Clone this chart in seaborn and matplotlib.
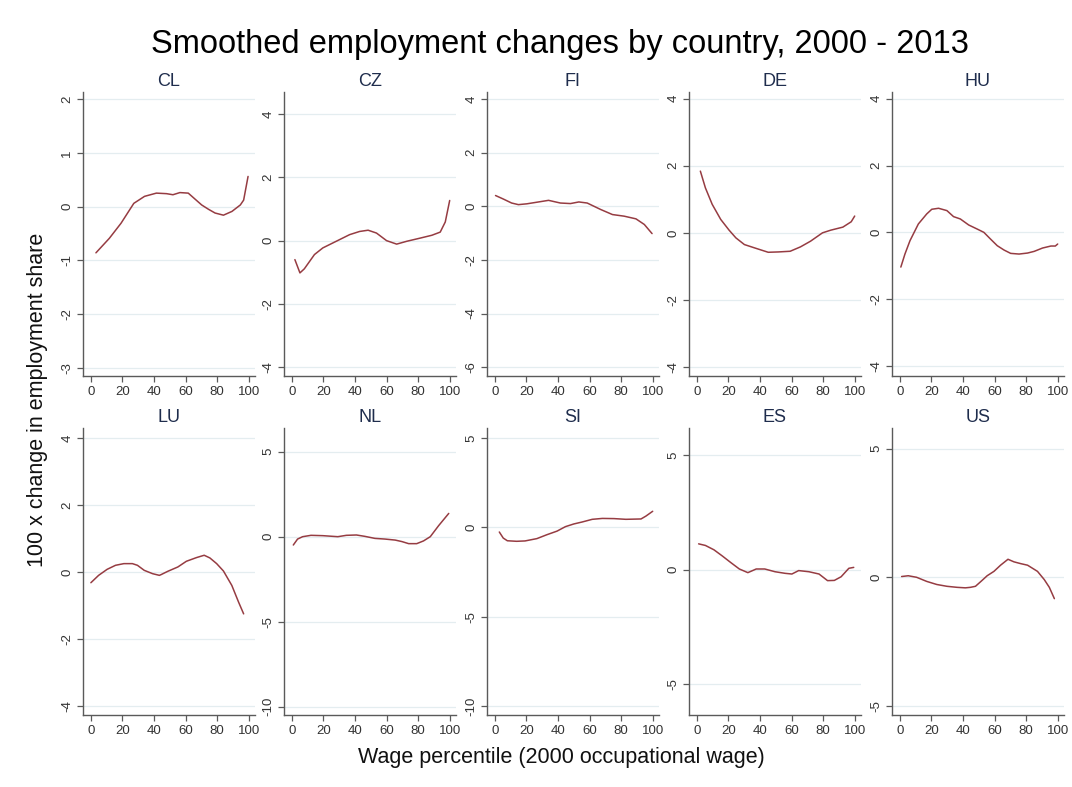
import numpy as np
import pandas as pd
import matplotlib
matplotlib.use("Agg")
import matplotlib.pyplot as plt
import seaborn as sns

# Smoothed employment-share changes by wage percentile, one panel per country
countries = ["CL", "CZ", "FI", "DE", "HU", "LU", "NL", "SI", "ES", "US"]

cl_x = [3.2, 11.7, 19.1, 27.2, 34, 41.5, 47.9, 52, 56.4, 61.7, 70.2, 74.5, 78.7, 84, 89.4, 94.7, 96.8, 99.6]
cl_y = [-0.86, -0.59, -0.31, 0.06, 0.19, 0.25, 0.24, 0.22, 0.26, 0.25, 0.03, -0.05, -0.12, -0.16, -0.09, 0.03, 0.12, 0.56]

cz_x = [1.9, 5.1, 7.9, 14.3, 19.6, 28.1, 36.6, 42.9, 48.3, 53.6, 60, 66.4, 72.8, 81.3, 88.7, 94, 97.2, 100]
cz_y = [-0.6, -1.02, -0.89, -0.44, -0.23, -0.02, 0.19, 0.29, 0.33, 0.24, 0.0, -0.11, -0.02, 0.08, 0.17, 0.27, 0.59, 1.27]

fi_x = [0.4, 5.3, 10.6, 14.9, 20.2, 26.6, 34, 41.5, 47.9, 53.2, 58.5, 67, 74.5, 81.9, 89.4, 94.7, 99.6]
fi_y = [0.40, 0.27, 0.12, 0.06, 0.09, 0.15, 0.22, 0.12, 0.10, 0.16, 0.12, -0.12, -0.31, -0.37, -0.47, -0.68, -1.02]

de_x = [2.2, 5.4, 9.7, 15.1, 20.4, 24.7, 30.1, 36.6, 45.2, 51.6, 59.1, 65.6, 72, 79.6, 84.9, 92.5, 97.8, 100]
de_y = [1.84, 1.34, 0.85, 0.40, 0.08, -0.15, -0.35, -0.45, -0.58, -0.57, -0.55, -0.42, -0.25, 0.0, 0.08, 0.17, 0.33, 0.50]

hu_x = [0.6, 3.2, 6.4, 11.7, 17, 20.2, 24.5, 29.8, 34, 38.3, 43.6, 48.9, 53.2, 57.4, 61.7, 66, 70.2, 75.5, 80.9, 85.1, 90.4, 95.7, 98.5, 100]
hu_y = [-1.04, -0.65, -0.25, 0.25, 0.55, 0.69, 0.72, 0.65, 0.47, 0.40, 0.22, 0.10, 0.0, -0.20, -0.40, -0.53, -0.63, -0.65, -0.62, -0.57, -0.47, -0.41, -0.41, -0.35]

lu_x = [0, 4.9, 10.3, 15.6, 20.9, 26.3, 29.5, 33.8, 39.1, 43.4, 44.4, 48.7, 55.1, 60.5, 66.9, 71.8, 75.4, 79.7, 84, 89.3, 93.6, 96.8]
lu_y = [-0.32, -0.10, 0.08, 0.20, 0.25, 0.25, 0.20, 0.05, -0.05, -0.10, -0.08, 0.02, 0.15, 0.32, 0.43, 0.50, 0.42, 0.25, 0.03, -0.40, -0.90, -1.25]

nl_x = [0.9, 3.6, 6.8, 12.1, 19.6, 29.1, 34.5, 40.9, 46.2, 52.6, 59, 65.5, 69.8, 74, 79.1, 83.4, 87.7, 93, 99.4]
nl_y = [-0.49, -0.14, 0.0, 0.08, 0.06, 0.0, 0.08, 0.10, 0.02, -0.10, -0.14, -0.20, -0.29, -0.41, -0.41, -0.25, 0.0, 0.65, 1.37]

si_x = [2.8, 5.3, 7.9, 13.8, 19.1, 26.6, 33, 39.4, 44.7, 50, 55.3, 61.7, 68.1, 75.5, 83, 92.6, 95.7, 100]
si_y = [-0.26, -0.60, -0.75, -0.78, -0.76, -0.63, -0.41, -0.21, 0.04, 0.19, 0.30, 0.45, 0.50, 0.49, 0.45, 0.47, 0.63, 0.90]

es_x = [1.1, 5.4, 10.8, 16.1, 21.5, 26.9, 32.3, 37.6, 43, 49.5, 55.9, 60.2, 64.5, 71, 77.4, 82.8, 87.1, 91.4, 96.3, 99.4]
es_y = [1.13, 1.06, 0.87, 0.60, 0.31, 0.03, -0.13, 0.03, 0.03, -0.09, -0.16, -0.19, -0.04, -0.09, -0.19, -0.48, -0.47, -0.31, 0.06, 0.10]

us_x = [1.1, 5.3, 10.6, 17, 23.4, 29.8, 36.2, 41.5, 44.7, 47.9, 52.1, 55.3, 59.6, 63.8, 68.5, 72.3, 76.6, 80.9, 87.2, 91.5, 94.7, 97.9]
us_y = [0.03, 0.06, 0.0, -0.16, -0.28, -0.35, -0.39, -0.41, -0.39, -0.35, -0.12, 0.06, 0.23, 0.47, 0.70, 0.60, 0.53, 0.47, 0.23, -0.09, -0.39, -0.83]

# y-axis ticks and limits of each panel
y_ticks = {
    "CL": [-3, -2, -1, 0, 1, 2],
    "CZ": [-4, -2, 0, 2, 4],
    "FI": [-6, -4, -2, 0, 2, 4],
    "DE": [-4, -2, 0, 2, 4],
    "HU": [-4, -2, 0, 2, 4],
    "LU": [-4, -2, 0, 2, 4],
    "NL": [-10, -5, 0, 5],
    "SI": [-10, -5, 0, 5],
    "ES": [-5, 0, 5],
    "US": [-5, 0, 5],
}
y_limits = {
    "CL": (-3.15, 2.13),
    "CZ": (-4.28, 4.7),
    "FI": (-6.33, 4.26),
    "DE": (-4.27, 4.2),
    "HU": (-4.3, 4.2),
    "LU": (-4.27, 4.3),
    "NL": (-10.5, 6.4),
    "SI": (-10.5, 5.56),
    "ES": (-6.36, 6.2),
    "US": (-5.35, 5.8),
}
x_ticks = [0, 20, 40, 60, 80, 100]

series_x = [cl_x, cz_x, fi_x, de_x, hu_x, lu_x, nl_x, si_x, es_x, us_x]
series_y = [cl_y, cz_y, fi_y, de_y, hu_y, lu_y, nl_y, si_y, es_y, us_y]

df = pd.concat(
    [pd.DataFrame({"country": c, "pct": xs, "change": ys})
     for c, xs, ys in zip(countries, series_x, series_y)],
    ignore_index=True,
)

sns.set_theme(style="white")
plt.rcParams["font.family"] = ["Liberation Sans", "DejaVu Sans"]

line_color = "#963c42"
grid_color = "#e4edf0"
spine_color = "#5a5a5a"
tick_text = "#333333"
panel_title_color = "#1f2d4d"

fig = plt.figure(figsize=(10.72, 7.87), dpi=100)

W, H = 1072, 787
lefts = [83, 284, 487, 689, 892]
ax_w = 172
rows = [(92, 376), (428, 715)]

for i, c in enumerate(countries):
    r, k = divmod(i, 5)
    top, bottom = rows[r]
    ax = fig.add_axes([lefts[k] / W, 1 - bottom / H, ax_w / W, (bottom - top) / H])
    sub = df[df["country"] == c]
    for t in y_ticks[c]:
        ax.axhline(t, color=grid_color, lw=0.9, zorder=0)
    sns.lineplot(data=sub, x="pct", y="change", ax=ax, color=line_color,
                 lw=1.1, estimator=None, sort=False, legend=False)
    ax.set_xlim(-5, 104)
    ax.set_ylim(*y_limits[c])
    ax.set_xticks(x_ticks)
    ax.set_yticks(y_ticks[c])
    ax.set_yticklabels([str(t) for t in y_ticks[c]], rotation=90, va="center")
    ax.set_xlabel("")
    ax.set_ylabel("")
    for s in ["top", "right"]:
        ax.spines[s].set_visible(False)
    for s in ["left", "bottom"]:
        ax.spines[s].set_color(spine_color)
        ax.spines[s].set_linewidth(1.0)
    ax.tick_params(axis="both", which="major", direction="out", length=4,
                   width=0.9, color=spine_color, labelcolor=tick_text,
                   labelsize=9.5, pad=3, left=True, bottom=True)
    ax.set_title(c, fontsize=13, color=panel_title_color, pad=4)
    ax.set_facecolor("white")

fig.suptitle("Smoothed employment changes by country, 2000 - 2013",
             fontsize=23.5, x=560 / W, y=1 - 44 / H, va="center", color="black")
fig.text(561 / W, 1 - 758 / H, "Wage percentile (2000 occupational wage)",
         ha="center", va="center", fontsize=15.5, color="#111111")
fig.text(38 / W, 1 - 400 / H, "100 x change in employment share",
         ha="center", va="center", rotation=90, fontsize=15.5, color="#111111")

fig.savefig("out.png", dpi=100, facecolor="white")
